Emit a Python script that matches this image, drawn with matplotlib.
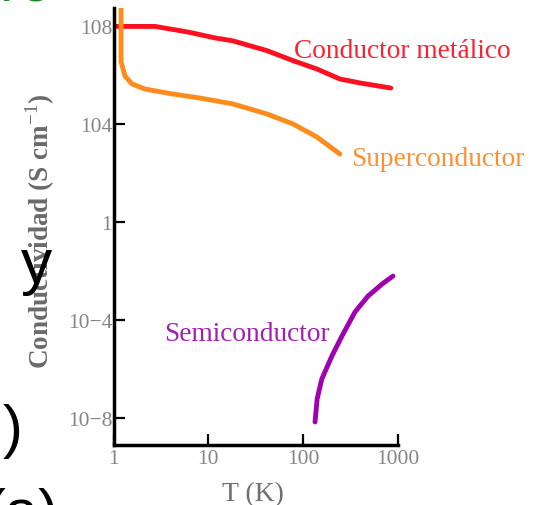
import numpy as np
import matplotlib
matplotlib.use('Agg')
import matplotlib.pyplot as plt

# fuentes
plt.rcParams['font.family'] = ['Liberation Serif', 'DejaVu Serif']
plt.rcParams['mathtext.fontset'] = 'custom'
plt.rcParams['mathtext.rm'] = 'Liberation Serif'
plt.rcParams['mathtext.bf'] = 'Liberation Serif:bold'

# datos (T en K, log10 de la conductividad en S/cm)
T_metal = [1, 2.74, 6.1, 11.8, 18.2, 41.6, 78.5, 140, 245, 398, 846]
log_metal = [8.0, 8.0, 7.77, 7.53, 7.41, 7.01, 6.60, 6.26, 5.85, 5.69, 5.48]

T_super = [1.2, 1.2, 1.32, 1.56, 2.14, 4.14, 8.2, 18.2, 41.6, 78.5, 140, 245]
log_super = [8.72, 6.55, 5.97, 5.65, 5.44, 5.24, 5.07, 4.83, 4.42, 4.01, 3.48, 2.78]

T_semi = [134, 141, 158, 202, 258, 354, 486, 683, 892]
log_semi = [-8.18, -7.24, -6.42, -5.48, -4.66, -3.68, -3.03, -2.54, -2.21]

yticks = [1e8, 1e4, 1, 1e-4, 1e-8]
yticklabels = ['108', '104', '1', '10\u22124', '10\u22128']
xticks = [1, 10, 100, 1000]
xticklabels = ['1', '10', '100', '1000']

# figura
fig = plt.figure(figsize=(5.4, 5.06), dpi=100)
ax = fig.add_axes([113.6/540, 60/506, 284.1/540, 437.4/506])

ax.plot(T_metal, np.power(10.0, log_metal), color='#ff1020', lw=3.5,
        solid_capstyle='round', solid_joinstyle='round')
ax.plot(T_super, np.power(10.0, log_super), color='#ff8c1a', lw=3.5,
        solid_capstyle='round', solid_joinstyle='round')
ax.plot(T_semi, np.power(10.0, log_semi), color='#a000b0', lw=3.5,
        solid_capstyle='round', solid_joinstyle='round')

ax.set_xscale('log')
ax.set_yscale('log')
ax.set_xlim(1, 1000)
ax.set_ylim(10**-9.12, 10**8.77)
ax.minorticks_off()

ax.set_xticks(xticks)
ax.set_xticklabels(xticklabels)
ax.set_yticks(yticks)
ax.set_yticklabels(yticklabels)

ax.spines['top'].set_visible(False)
ax.spines['right'].set_visible(False)
ax.spines['left'].set_linewidth(2.5)
ax.spines['bottom'].set_linewidth(2.5)
ax.tick_params(direction='in', length=8, width=1.6, color='black',
               labelcolor='#858585', labelsize=15.5)
ax.tick_params(axis='y', pad=1)
ax.tick_params(axis='x', pad=3)

ax.set_xlabel('T (K)', fontsize=20, color='#707070')
ax.xaxis.label.set_va('center')
ax.xaxis.set_label_coords(0.49, -0.112)
ax.set_ylabel('Conductividad (S cm$^{-1}$)', fontsize=19.5, color='#6a6a6a',
              fontweight='bold')
ax.yaxis.label.set_va('center')
ax.yaxis.set_label_coords(-0.26, 0.49)

# etiquetas de las curvas
ax.text(80, 10**7.0, 'Conductor metálico', color='#ff2030', fontsize=19.7,
        ha='left', va='center')
ax.text(321, 10**2.58, 'Superconductor', color='#ff9030', fontsize=19.7,
        ha='left', va='center')
ax.text(3.4, 10**-4.58, 'Semiconductor', color='#a020b0', fontsize=19.7,
        ha='left', va='center')

# texto de la diapositiva que asoma por los bordes
fig.text(0.0, 504/506, 'ro', color='#1f8a1f', fontsize=42,
         family='Liberation Sans', va='baseline')
fig.text(21/540, (506-283)/506, 'y', color='black', fontsize=45,
         family='Liberation Sans', va='baseline')
fig.text(3/540, (506-447)/506, ')', color='black', fontsize=43,
         family='Liberation Sans', va='baseline')
fig.text(-15/540, (506-531)/506, '(a)', color='black', fontsize=43,
         family='Liberation Sans', va='baseline')

fig.savefig('out.png', dpi=100)
